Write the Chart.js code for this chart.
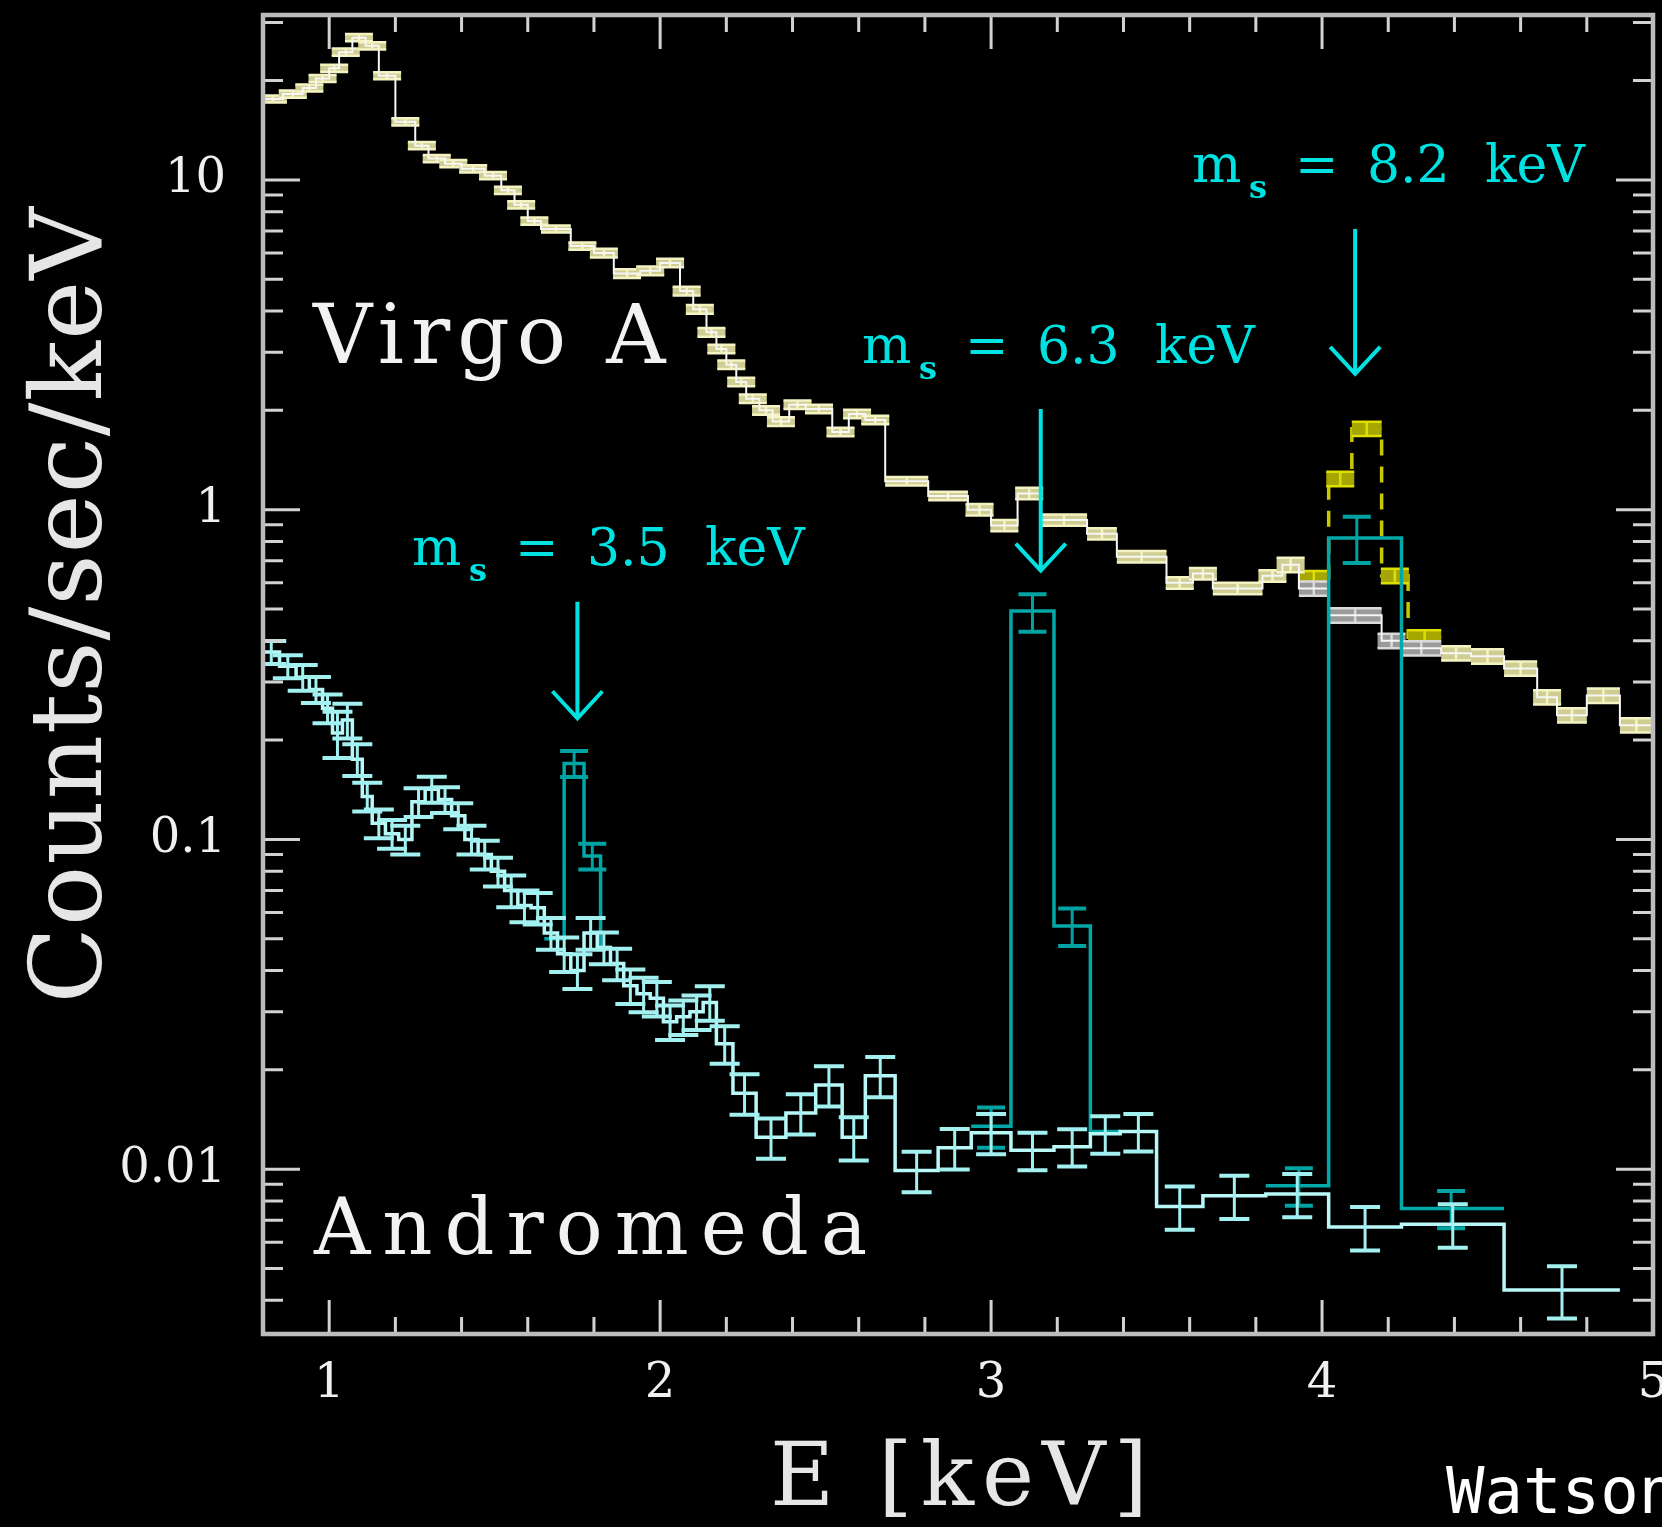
<!DOCTYPE html>
<html>
<head>
<meta charset="utf-8">
<title>Virgo A and Andromeda X-ray spectra</title>
<script src="https://cdn.jsdelivr.net/npm/chart.js@4.4.1/dist/chart.umd.min.js"></script>
<style>
  html, body { margin: 0; padding: 0; background: #000; }
  canvas { display: block; }
</style>
</head>
<body>
<canvas id="spectrum" width="1662" height="1527"></canvas>
<script>
// Virgo A: bin edges (keV), counts/sec/keV per bin, fractional error per bin
var virgoEdges = [0.80, 0.86, 0.92, 0.96, 1.00, 1.03, 1.07, 1.11, 1.15, 1.20,
  1.26, 1.30, 1.35, 1.40, 1.47, 1.52, 1.56, 1.60, 1.64, 1.73,
  1.80, 1.86, 1.94, 2.00, 2.06, 2.10, 2.14, 2.17, 2.20, 2.23,
  2.26, 2.30, 2.34, 2.39, 2.44, 2.52, 2.57, 2.62, 2.68, 2.81,
  2.93, 3.00, 3.08, 3.15, 3.29, 3.38, 3.53, 3.61, 3.67, 3.82,
  3.88, 3.93, 4.02, 4.18, 4.24, 4.36, 4.45, 4.55, 4.65, 4.71,
  4.80, 4.90, 5.00];
var virgoCounts = [17.6, 18.2, 19.0, 20.3, 21.8, 24.4, 27.0, 25.5, 20.7, 15.0,
  12.7, 11.6, 11.2, 10.8, 10.3, 9.3, 8.4, 7.5, 7.1, 6.3,
  6.0, 5.2, 5.3, 5.6, 4.6, 4.05, 3.45, 3.07, 2.75, 2.44,
  2.17, 2.0, 1.85, 2.08, 2.02, 1.72, 1.95, 1.87, 1.22, 1.10,
  1.0, 0.895, 1.12, 0.93, 0.845, 0.72, 0.60, 0.64, 0.577, 0.63,
  0.68, 0.577, 0.478, 0.40, 0.38, 0.367, 0.359, 0.33, 0.27, 0.238,
  0.273, 0.222];
var virgoErr = [0.025, 0.025, 0.025, 0.025, 0.025, 0.025, 0.025, 0.025, 0.025, 0.025,
  0.025, 0.025, 0.025, 0.025, 0.025, 0.025, 0.025, 0.025, 0.025, 0.025,
  0.03, 0.03, 0.03, 0.03, 0.03, 0.03, 0.03, 0.03, 0.03, 0.03,
  0.03, 0.03, 0.03, 0.03, 0.03, 0.03, 0.03, 0.03, 0.03, 0.03,
  0.04, 0.04, 0.04, 0.04, 0.04, 0.04, 0.04, 0.04, 0.04, 0.04,
  0.05, 0.05, 0.05, 0.05, 0.05, 0.05, 0.05, 0.05, 0.05, 0.05,
  0.05, 0.05];

// Virgo A with an 8.2 keV sterile neutrino line added
var virgoLineEdges = [3.93, 4.02, 4.09, 4.18, 4.26, 4.36];
var virgoLineCounts = [0.62, 1.24, 1.76, 0.63, 0.41];
var virgoLineErr = [0.05, 0.05, 0.05, 0.05, 0.05];

// Andromeda: bin edges (keV), counts/sec/keV, fractional error
var andEdges = [0.80, 0.85, 0.90, 0.94, 0.98, 1.01, 1.04, 1.07, 1.10, 1.13,
  1.17, 1.21, 1.25, 1.29, 1.33, 1.37, 1.41, 1.45, 1.49, 1.53,
  1.57, 1.61, 1.65, 1.69, 1.73, 1.77, 1.81, 1.85, 1.89, 1.93,
  1.97, 2.01, 2.05, 2.09, 2.13, 2.17, 2.22, 2.29, 2.38, 2.47,
  2.55, 2.62, 2.71, 2.84, 2.94, 3.06, 3.19, 3.30, 3.39, 3.50,
  3.64, 3.83, 4.02, 4.24, 4.55, 4.90];
var andCounts = [0.37, 0.335, 0.31, 0.285, 0.25, 0.21, 0.23, 0.175, 0.135, 0.112,
  0.104, 0.10, 0.13, 0.142, 0.132, 0.118, 0.10, 0.09, 0.08, 0.07,
  0.063, 0.062, 0.052, 0.045, 0.040, 0.052, 0.047, 0.042, 0.036, 0.034,
  0.033, 0.028, 0.029, 0.030, 0.032, 0.024, 0.017, 0.0125, 0.0148, 0.018,
  0.0125, 0.0192, 0.0099, 0.0116, 0.0129, 0.0114, 0.0117, 0.0128, 0.013, 0.0077,
  0.0083, 0.0084, 0.00667, 0.0068, 0.0043];
var andErr = [0.08, 0.08, 0.09, 0.09, 0.10, 0.16, 0.12, 0.11, 0.10, 0.10,
  0.10, 0.10, 0.10, 0.09, 0.09, 0.09, 0.10, 0.10, 0.10, 0.11,
  0.11, 0.11, 0.11, 0.12, 0.12, 0.11, 0.11, 0.11, 0.12, 0.12,
  0.12, 0.12, 0.12, 0.12, 0.12, 0.13, 0.14, 0.14, 0.14, 0.14,
  0.15, 0.14, 0.14, 0.14, 0.14, 0.13, 0.13, 0.13, 0.13, 0.15,
  0.15, 0.15, 0.15, 0.15, 0.18];

// Andromeda with a sterile neutrino line, one model per mass
var lineMass = [3.5, 6.3, 8.2];
var lineEdges = [
  [1.65, 1.71, 1.77, 1.82, 1.85],
  [2.94, 3.06, 3.19, 3.30, 3.39],
  [3.83, 4.02, 4.24, 4.55]
];
var lineCounts = [
  [0.05, 0.17, 0.089, 0.047],
  [0.0135, 0.493, 0.0546, 0.013],
  [0.0089, 0.82, 0.0076]
];
var linePointE = [1.74, 1.795, 3.0, 3.125, 3.245, 3.93, 4.105, 4.39];
var linePointCounts = [0.17, 0.089, 0.0135, 0.49, 0.0546, 0.0089, 0.82, 0.0076];
var linePointErr = [0.09, 0.09, 0.14, 0.13, 0.13, 0.13, 0.16, 0.13];

var xTicks = [1, 2, 3, 4, 5];
var yTicks = [0.01, 0.1, 1, 10];
var yTickLabels = ['0.01', '0.1', '1', '10'];

// histogram outline: each value held from its left edge to the next edge
function steps(edges, vals) {
  var pts = vals.map(function (v, i) { return { x: edges[i], y: v }; });
  pts.push({ x: edges[edges.length - 1], y: vals[vals.length - 1] });
  return pts;
}

function centres(edges, vals, errs) {
  return vals.map(function (v, i) {
    return { x: (edges[i] + edges[i + 1]) / 2, y: v, err: errs[i], lo: edges[i], hi: edges[i + 1] };
  });
}

var linePoints = linePointE.map(function (e, i) {
  return { x: e, y: linePointCounts[i], err: linePointErr[i] };
});

// arrow extent (counts/sec/keV) and label placement for each mass
var massNotes = [
  { from: 0.526, to: 0.233, left: 415, base: 565 },
  { from: 2.02, to: 0.653, left: 865, base: 363 },
  { from: 7.1, to: 2.58, left: 1195, base: 182 }
];

var serif = '"DejaVu Serif", "Liberation Serif", serif';

// vertical error bars (or boxes) on scatter datasets
var errorBars = {
  id: 'errorBars',
  afterDatasetDraw: function (chart, args) {
    var ds = chart.data.datasets[args.index];
    var st = ds.errorBars;
    if (!st) return;
    var ctx = chart.ctx, xs = chart.scales.x, ys = chart.scales.y, a = chart.chartArea;
    ctx.save();
    ctx.beginPath();
    ctx.rect(a.left, a.top, a.right - a.left, a.bottom - a.top);
    ctx.clip();
    args.meta.data.forEach(function (pt, i) {
      var d = ds.data[i];
      var half = st.capWidth / 2;
      if (st.box && d.lo !== undefined) {
        half = Math.max(half, (xs.getPixelForValue(d.hi) - xs.getPixelForValue(d.lo)) / 2);
      }
      var top = ys.getPixelForValue(d.y * (1 + d.err));
      var bot = ys.getPixelForValue(d.y * (1 - d.err));
      var colour = typeof st.colour === 'function' ? st.colour(d.x) : st.colour;
      if (st.box) {
        ctx.fillStyle = st.fill(d.x);
        ctx.fillRect(pt.x - half, top, half * 2, bot - top);
        ctx.strokeStyle = colour;
        ctx.lineWidth = 2.5;
        ctx.beginPath();
        ctx.moveTo(pt.x - half, top); ctx.lineTo(pt.x + half, top);
        ctx.moveTo(pt.x - half, bot); ctx.lineTo(pt.x + half, bot);
        ctx.moveTo(pt.x, top); ctx.lineTo(pt.x, bot);
        ctx.stroke();
      } else {
        ctx.strokeStyle = colour;
        ctx.lineWidth = 3;
        ctx.beginPath();
        ctx.moveTo(pt.x, top); ctx.lineTo(pt.x, bot);
        ctx.stroke();
        ctx.lineWidth = 4;
        ctx.beginPath();
        ctx.moveTo(pt.x - half, top); ctx.lineTo(pt.x + half, top);
        ctx.moveTo(pt.x - half, bot); ctx.lineTo(pt.x + half, bot);
        ctx.stroke();
      }
    });
    ctx.restore();
  }
};

// labels, arrows and axis titles
var notes = {
  id: 'notes',
  afterDatasetsDraw: function (chart) {
    var ctx = chart.ctx, xs = chart.scales.x, ys = chart.scales.y;
    ctx.save();
    ctx.textAlign = 'left';
    ctx.textBaseline = 'alphabetic';

    ctx.fillStyle = '#f2f2f2';
    ctx.font = '82px ' + serif;
    ctx.letterSpacing = '7px';
    ctx.fillText('Virgo A', 313, 363);
    ctx.font = '78px ' + serif;
    ctx.letterSpacing = '12px';
    ctx.fillText('Andromeda', 314, 1254);

    // arrows mark the line energy, half the sterile neutrino mass
    ctx.strokeStyle = '#00e2e2';
    ctx.fillStyle = '#00e2e2';
    ctx.lineWidth = 4;
    ctx.letterSpacing = '0px';
    massNotes.forEach(function (n, i) {
      var px = xs.getPixelForValue(lineMass[i] / 2);
      var y0 = ys.getPixelForValue(n.from), y1 = ys.getPixelForValue(n.to);
      ctx.beginPath();
      ctx.moveTo(px, y0); ctx.lineTo(px, y1);
      ctx.moveTo(px - 25, y1 - 27); ctx.lineTo(px, y1); ctx.lineTo(px + 25, y1 - 27);
      ctx.stroke();

      ctx.font = '52px ' + serif;
      ctx.fillText('m', n.left - 3, n.base);
      ctx.fillText('=', n.left + 100, n.base);
      ctx.fillText(lineMass[i].toFixed(1), n.left + 172, n.base);
      ctx.fillText('keV', n.left + 290, n.base);
      ctx.font = 'bold 32px ' + serif;
      ctx.fillText('s', n.left + 54, n.base + 16);
    });

    ctx.fillStyle = '#e6e6e6';
    ctx.font = '88px ' + serif;
    ctx.letterSpacing = '8px';
    ctx.textAlign = 'center';
    ctx.fillText('E [keV]', 963, 1505);

    ctx.save();
    ctx.translate(101, 605);
    ctx.rotate(-Math.PI / 2);
    ctx.font = '100px ' + serif;
    ctx.letterSpacing = '1px';
    ctx.fillText('Counts/sec/keV', 0, 0);
    ctx.restore();

    ctx.textAlign = 'left';
    ctx.letterSpacing = '0px';
    ctx.fillStyle = '#ffffff';
    ctx.font = '64px "DejaVu Sans Mono", monospace';
    ctx.fillText('Watson', 1446, 1513);
    ctx.restore();
  }
};

// box frame with inward ticks on all four sides
var frame = {
  id: 'frame',
  afterDraw: function (chart) {
    var ctx = chart.ctx, a = chart.chartArea, xs = chart.scales.x, ys = chart.scales.y;
    ctx.save();
    ctx.strokeStyle = '#d2d2d2';
    ctx.lineWidth = 3;
    ctx.beginPath();
    for (var k = 5; k < 25; k++) {
      var px = xs.getPixelForValue(k / 5);
      var len = k % 5 === 0 ? 34 : 17;
      ctx.moveTo(px, a.bottom); ctx.lineTo(px, a.bottom - len);
      ctx.moveTo(px, a.top); ctx.lineTo(px, a.top + len);
    }
    for (var d = -3; d <= 1; d++) {
      for (var m = 1; m <= 9; m++) {
        var v = m * Math.pow(10, d);
        if (v <= ys.min || v >= ys.max) continue;
        var py = ys.getPixelForValue(v);
        var l = m === 1 ? 37 : 20;
        ctx.moveTo(a.left, py); ctx.lineTo(a.left + l, py);
        ctx.moveTo(a.right, py); ctx.lineTo(a.right - l, py);
      }
    }
    ctx.stroke();
    ctx.strokeStyle = '#bcbcbc';
    ctx.lineWidth = 4.5;
    ctx.strokeRect(a.left, a.top, a.right - a.left, a.bottom - a.top);
    ctx.restore();
  }
};

var tickFont = { family: 'DejaVu Serif', size: 48 };

function virgoGrey(x) { return x > 3.93 && x < 4.36; }

new Chart(document.getElementById('spectrum'), {
  type: 'line',
  data: {
    datasets: [
      {
        label: 'Andromeda',
        type: 'scatter',
        data: centres(andEdges, andCounts, andErr),
        showLine: false,
        pointRadius: 0,
        errorBars: { colour: '#a2f0f0', capWidth: 30 }
      },
      {
        label: 'Andromeda model',
        data: steps(andEdges, andCounts),
        stepped: 'before',
        borderColor: '#b8f8f8',
        borderWidth: 3.5,
        pointRadius: 0
      },
      {
        label: 'Andromeda with line',
        type: 'scatter',
        data: linePoints,
        showLine: false,
        pointRadius: 0,
        errorBars: { colour: '#00a2a2', capWidth: 28 }
      },
      {
        label: 'm_s = 3.5 keV',
        data: steps(lineEdges[0], lineCounts[0]),
        stepped: 'before',
        borderColor: '#00a8a8',
        borderWidth: 3.5,
        pointRadius: 0
      },
      {
        label: 'm_s = 6.3 keV',
        data: steps(lineEdges[1], lineCounts[1]),
        stepped: 'before',
        borderColor: '#00a8a8',
        borderWidth: 3.5,
        pointRadius: 0
      },
      {
        label: 'm_s = 8.2 keV',
        data: steps(lineEdges[2], lineCounts[2]),
        stepped: 'before',
        borderColor: '#00a8a8',
        borderWidth: 3.5,
        pointRadius: 0
      },
      {
        label: 'Virgo A model',
        data: steps(virgoEdges, virgoCounts),
        stepped: 'before',
        borderColor: '#f6f6f6',
        borderWidth: 2,
        pointRadius: 0
      },
      {
        label: 'Virgo A',
        type: 'scatter',
        data: centres(virgoEdges, virgoCounts, virgoErr),
        showLine: false,
        pointRadius: 0,
        errorBars: {
          box: true,
          capWidth: 28,
          colour: function (x) { return virgoGrey(x) ? '#dadada' : '#f4f3c4'; },
          fill: function (x) { return virgoGrey(x) ? '#9a9a9a' : '#cfcd92'; }
        }
      },
      {
        label: 'Virgo A with line',
        type: 'scatter',
        data: centres(virgoLineEdges, virgoLineCounts, virgoLineErr),
        showLine: false,
        pointRadius: 0,
        errorBars: {
          box: true,
          capWidth: 28,
          colour: '#dede00',
          fill: function () { return '#a6a600'; }
        }
      },
      {
        label: 'Virgo A line model',
        data: steps(virgoLineEdges, virgoLineCounts),
        stepped: 'before',
        borderColor: '#c8c800',
        borderDash: [16, 11],
        borderWidth: 3.5,
        pointRadius: 0
      }
    ]
  },
  options: {
    responsive: false,
    animation: false,
    devicePixelRatio: 1,
    layout: { padding: { top: 15, right: 9, left: 0, bottom: 0 } },
    plugins: { legend: { display: false }, tooltip: { enabled: false } },
    scales: {
      x: {
        type: 'linear',
        min: 0.8,
        max: 5.0,
        grid: { display: false, drawTicks: false },
        border: { display: false },
        ticks: {
          color: '#f0f0f0',
          font: tickFont,
          padding: 22,
          maxRotation: 0,
          autoSkip: false,
          callback: function (v) { return String(v); }
        },
        afterBuildTicks: function (s) {
          s.ticks = xTicks.map(function (v) { return { value: v }; });
        },
        afterFit: function (s) {
          s.height = 193;
          s.paddingLeft = 0;
          s.paddingRight = 0;
        }
      },
      y: {
        type: 'logarithmic',
        min: Math.pow(10, -2.5),
        max: Math.pow(10, 1.5),
        grid: { display: false, drawTicks: false },
        border: { display: false },
        ticks: {
          color: '#f0f0f0',
          font: tickFont,
          padding: 37,
          autoSkip: false,
          callback: function (v, i) { return yTickLabels[i]; }
        },
        afterBuildTicks: function (s) {
          s.ticks = yTicks.map(function (v) { return { value: v }; });
        },
        afterFit: function (s) {
          s.width = 263;
          s.paddingTop = 0;
          s.paddingBottom = 0;
        }
      }
    }
  },
  plugins: [errorBars, notes, frame]
});
</script>
</body>
</html>
